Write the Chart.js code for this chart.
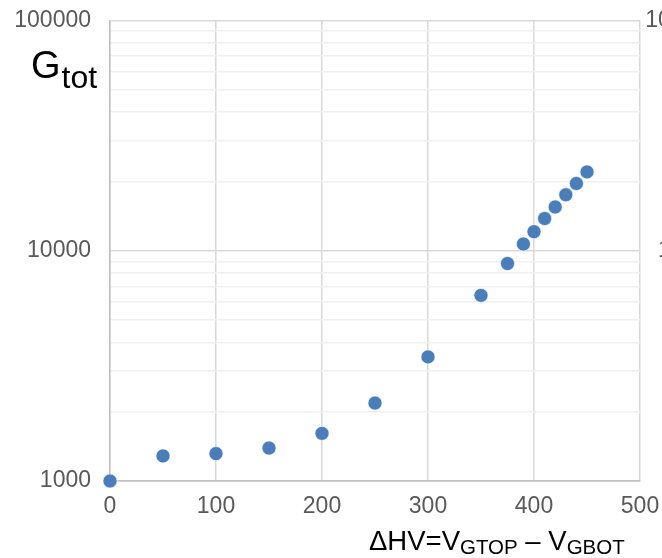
<!DOCTYPE html>
<html>
<head>
<meta charset="utf-8">
<script src="https://cdn.jsdelivr.net/npm/chart.js@4/dist/chart.umd.min.js"></script>
<style>
  html, body { margin: 0; padding: 0; background: #fff; }
  #wrap { position: relative; width: 662px; height: 558px; overflow: hidden; }
  #chart { position: absolute; left: 0; top: 0; }
  .title { position: absolute; color: #000; font-family: "Liberation Sans", Arial, sans-serif; white-space: nowrap; line-height: 1; }
  #ytitle { left: 31px; top: 46px; font-size: 38px; }
  #ytitle sub { font-size: 32px; vertical-align: -10px; margin-left: 1px; }
  #xtitle { left: 369px; top: 527px; font-size: 27.5px; }
  #xtitle sub { font-size: 20.5px; vertical-align: -4px; }
</style>
</head>
<body>
<div id="wrap">
  <canvas id="chart" width="740" height="558"></canvas>
  <div class="title" id="ytitle">G<sub>tot</sub></div>
  <div class="title" id="xtitle">ΔHV=V<sub>GTOP</sub> – V<sub>GBOT</sub></div>
</div>
<script>
// ΔHV values (V) and total gain
const deltaHV = [0, 50, 100, 150, 200, 250, 300, 350, 375, 390, 400, 410, 420, 430, 440, 450];
const gainTot = [1000, 1285, 1315, 1390, 1610, 2180, 3460, 6400, 8800, 10700, 12100, 13800, 15500, 17500, 19600, 22000];

const xTicks = [0, 100, 200, 300, 400, 500];
const yTickLabels = [1000, 10000, 100000];
const minorSteps = [1, 2, 3, 4, 5, 6, 7, 8, 9];

// every gridline position: 1..9 times each decade, plus the top one
const yGridValues = [];
yTickLabels.slice(0, -1).forEach((decade) => {
  minorSteps.forEach((m) => yGridValues.push(decade * m));
});
yGridValues.push(yTickLabels[yTickLabels.length - 1]);

const labelFont = { family: '"Liberation Sans", Arial, sans-serif', size: 23 };
const labelColor = '#595959';

const setYTicks = (scale) => {
  scale.ticks = yGridValues.map((v) => ({ value: v }));
};
const yLabel = (value) => (yTickLabels.includes(value) ? String(value) : '');

// the plot box is placed by hand, so drop the label overhang padding
const fitY = (width) => (scale) => {
  scale.width = width;
  scale.paddingTop = 0;
  scale.paddingBottom = 0;
};

new Chart(document.getElementById('chart').getContext('2d'), {
  type: 'scatter',
  data: {
    datasets: [
      {
        data: deltaHV.map((x, i) => ({ x: x, y: gainTot[i] })),
        backgroundColor: '#4a7ebb',
        borderColor: 'rgba(255,255,255,0.7)',
        borderWidth: 0.8,
        pointRadius: 7,
        pointHoverRadius: 7,
        clip: false,
      },
    ],
  },
  options: {
    responsive: false,
    animation: false,
    devicePixelRatio: 1,
    layout: { padding: { top: 20.5, right: 18, left: 0, bottom: 0 } },
    plugins: { legend: { display: false }, tooltip: { enabled: false } },
    scales: {
      x: {
        type: 'linear',
        min: 0,
        max: 500,
        afterBuildTicks: (scale) => {
          scale.ticks = xTicks.map((v) => ({ value: v }));
        },
        afterFit: (scale) => {
          scale.height = 77;
          scale.paddingLeft = 0;
          scale.paddingRight = 0;
        },
        grid: { color: '#d9d9d9', lineWidth: 1.5, drawTicks: false },
        border: { color: '#bfbfbf', width: 1.5 },
        ticks: { font: labelFont, color: labelColor, padding: 12, maxRotation: 0 },
      },
      y: {
        type: 'logarithmic',
        position: 'left',
        min: 1000,
        max: 100000,
        afterBuildTicks: setYTicks,
        afterFit: fitY(110),
        grid: {
          drawTicks: false,
          lineWidth: 1.5,
          color: (ctx) => (ctx.tick && yTickLabels.includes(ctx.tick.value) ? '#d9d9d9' : '#f0f0f0'),
        },
        border: { color: '#bfbfbf', width: 1.5 },
        ticks: { font: labelFont, color: labelColor, padding: 19, autoSkip: false, callback: yLabel },
      },
      y2: {
        type: 'logarithmic',
        position: 'right',
        min: 1000,
        max: 100000,
        afterBuildTicks: setYTicks,
        afterFit: fitY(82),
        grid: { display: false, drawTicks: false },
        border: { display: false },
        ticks: { font: labelFont, color: labelColor, padding: 0, autoSkip: false, crossAlign: 'far', callback: yLabel },
      },
    },
  },
});
</script>
</body>
</html>
